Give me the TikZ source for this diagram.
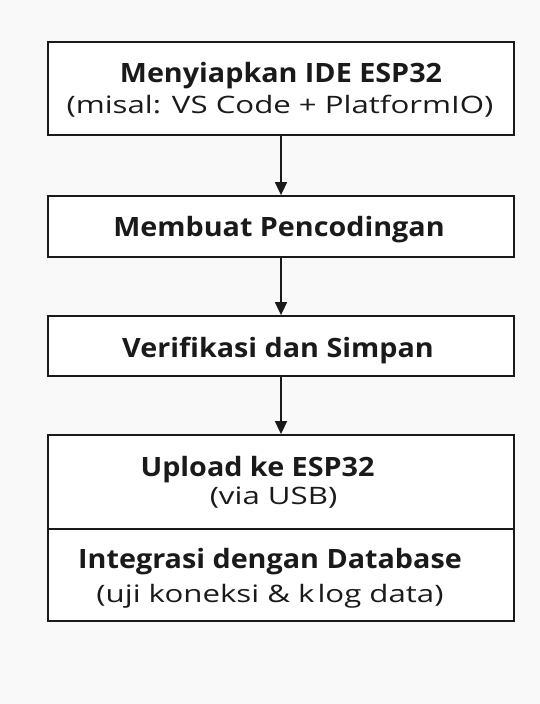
\documentclass[tikz,border=0pt]{standalone}
\usepackage{fontspec}
\setmainfont{Open Sans}
\newfontfamily\headfont[FakeStretch=1.08]{Open Sans Bold}
\newfontfamily\subfont[FakeStretch=1.3]{Open Sans}
\usetikzlibrary{arrows.meta}
\definecolor{bgc}{HTML}{F9F9F9}
\definecolor{ink}{HTML}{1A1A1A}
\tikzset{
  box/.style={draw=ink, line width=1.8pt, fill=white, inner sep=0pt, minimum width=466pt},
  head/.style={font=\headfont\fontsize{26.6}{30}\selectfont, text=ink, inner sep=0pt, anchor=base},
  sub/.style={font=\subfont\fontsize{24}{28}\selectfont, text=ink, inner sep=0pt, anchor=base},
  flow/.style={draw=ink, line width=1.6pt, -{Triangle[length=13pt,width=12pt]}},
}
\begin{document}
\begin{tikzpicture}[x=1pt,y=-1pt]
\fill[bgc] (0,0) rectangle (540,704);
\useasboundingbox (0,0) rectangle (540,704);
\node[box, minimum height=93pt] (b1) at (281,88.5) {};
\node[box, minimum height=61pt] (b2) at (281,226.5) {};
\node[box, minimum height=60pt] (b3) at (281,346) {};
\node[box, minimum height=186pt] (b4) at (281,528) {};
\coordinate (dl) at (48,529);
\coordinate (dr) at (514,529);
\draw[draw=ink, line width=1.5pt] (dl) -- (dr);
\node[head] (t1) at (281,82) {Menyiapkan IDE ESP32};
\node[sub] (s1) at (280,113) {(misal: VS Code + PlatformIO)};
\node[head] (t2) at (279,236) {Membuat Pencodingan};
\node[head] (t3) at (278,357) {Verifikasi dan Simpan};
\node[head] (t4) at (257.5,476) {Upload ke ESP32};
\node[sub] (s4) at (273.5,504) {(via USB)};
\node[head] (t5) at (270,568) {Integrasi dengan Database};
\node[sub] (s5) at (270,602) {(uji koneksi \& k\kern3pt log data)};
\draw[flow] (b1) -- (b2);
\draw[flow] (b2) -- (b3);
\draw[flow] (b3) -- (b4);
\end{tikzpicture}
\end{document}
